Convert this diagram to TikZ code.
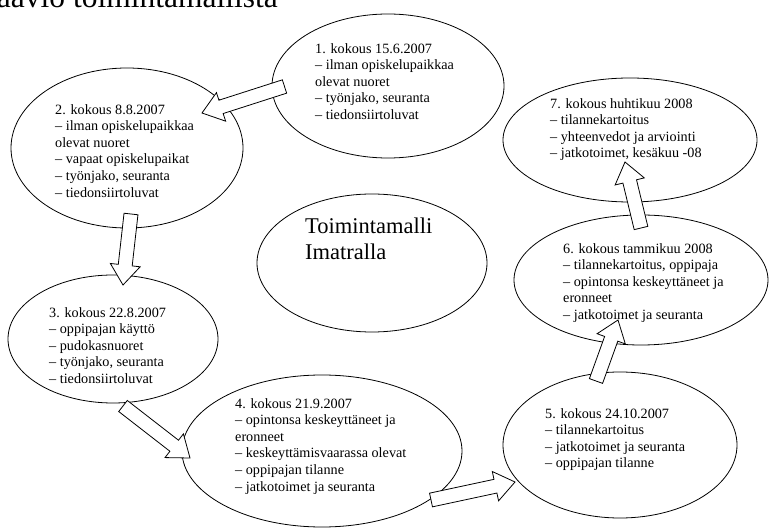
\documentclass[tikz,border=0pt]{standalone}
\usepackage{fontspec}
\setmainfont{Liberation Serif}
\usetikzlibrary{shapes.geometric,calc}

\newcommand{\nuoli}[2]{%
  \coordinate (nk) at ($(#2)!20pt!(#1)$);
  \draw[lohko] ($(#1)!7pt!90:(#2)$) -- ($(nk)!7pt!90:(#2)$) -- ($(nk)!15pt!90:(#2)$)
    -- (#2) -- ($(nk)!15pt!-90:(#2)$) -- ($(nk)!7pt!-90:(#2)$) -- ($(#1)!7pt!-90:(#2)$) -- cycle;
}

\begin{document}
\begin{tikzpicture}[x=1pt,y=-1pt,
  soikio/.style={draw, ellipse, inner sep=0pt, line width=0.8pt},
  teksti/.style={align=left, anchor=north west, inner sep=0pt, font=\fontsize{14.2}{16.6}\selectfont},
  lohko/.style={draw, fill=white, line width=0.8pt, line join=miter}]

\useasboundingbox (0,0) rectangle (769,529);

\node[anchor=base east, inner sep=0pt, font=\fontsize{31.5}{37}\selectfont] (otsikko) at (278,8) {Kaavio toimintamallista};

\node[soikio, minimum width=232pt, minimum height=144pt] (k1) at (388,86) {};
\node[soikio, minimum width=232pt, minimum height=160pt] (k2) at (127,148) {};
\node[soikio, minimum width=210pt, minimum height=128pt] (k3) at (113,339) {};
\node[soikio, minimum width=280pt, minimum height=152pt] (k4) at (322,451) {};
\node[soikio, minimum width=234pt, minimum height=146pt] (k5) at (620,445) {};
\node[soikio, minimum width=254pt, minimum height=130pt] (k6) at (641,280) {};
\node[soikio, minimum width=254pt, minimum height=124pt] (k7) at (630,140) {};
\node[soikio, minimum width=230pt, minimum height=138pt] (kc) at (372,263) {};

\node[teksti] (t1) at (315,43) {1. kokous 15.6.2007\\-- ilman opiskelupaikkaa\\olevat nuoret\\-- työnjako, seuranta\\-- tiedonsiirtoluvat};
\node[teksti] (t2) at (55,104) {2. kokous 8.8.2007\\-- ilman opiskelupaikkaa\\olevat nuoret\\-- vapaat opiskelupaikat\\-- työnjako, seuranta\\-- tiedonsiirtoluvat};
\node[teksti] (t3) at (49,307) {3. kokous 22.8.2007\\-- oppipajan käyttö\\-- pudokasnuoret\\-- työnjako, seuranta\\-- tiedonsiirtoluvat};
\node[teksti] (t4) at (235,398) {4. kokous 21.9.2007\\-- opintonsa keskeyttäneet ja\\eronneet\\-- keskeyttämisvaarassa olevat\\-- oppipajan tilanne\\-- jatkotoimet ja seuranta};
\node[teksti] (t5) at (545,408) {5. kokous 24.10.2007\\-- tilannekartoitus\\-- jatkotoimet ja seuranta\\-- oppipajan tilanne};
\node[teksti] (t6) at (563,243) {6. kokous tammikuu 2008\\-- tilannekartoitus, oppipaja\\-- opintonsa keskeyttäneet ja\\eronneet\\-- jatkotoimet ja seuranta};
\node[teksti] (t7) at (550,98) {7. kokous huhtikuu 2008\\-- tilannekartoitus\\-- yhteenvedot ja arviointi\\-- jatkotoimet, kesäkuu -08};
\node[teksti, font=\fontsize{22.5}{26}\selectfont] (tc) at (305,218) {Toimintamalli\\Imatralla};

\coordinate (a1) at (284.5,86.5);
\coordinate (b1) at (202,113);
\coordinate (a2) at (131,214);
\coordinate (b2) at (123,285);
\coordinate (a3) at (123,406);
\coordinate (b3) at (190,458);
\coordinate (a4) at (431,500);
\coordinate (b4) at (515,482);
\coordinate (a5) at (596,381);
\coordinate (b5) at (618,320);
\coordinate (a6) at (641,228);
\coordinate (b6) at (625,162);

\nuoli{a1}{b1}
\nuoli{a2}{b2}
\nuoli{a3}{b3}
\nuoli{a4}{b4}
\nuoli{a5}{b5}
\nuoli{a6}{b6}
\end{tikzpicture}
\end{document}
